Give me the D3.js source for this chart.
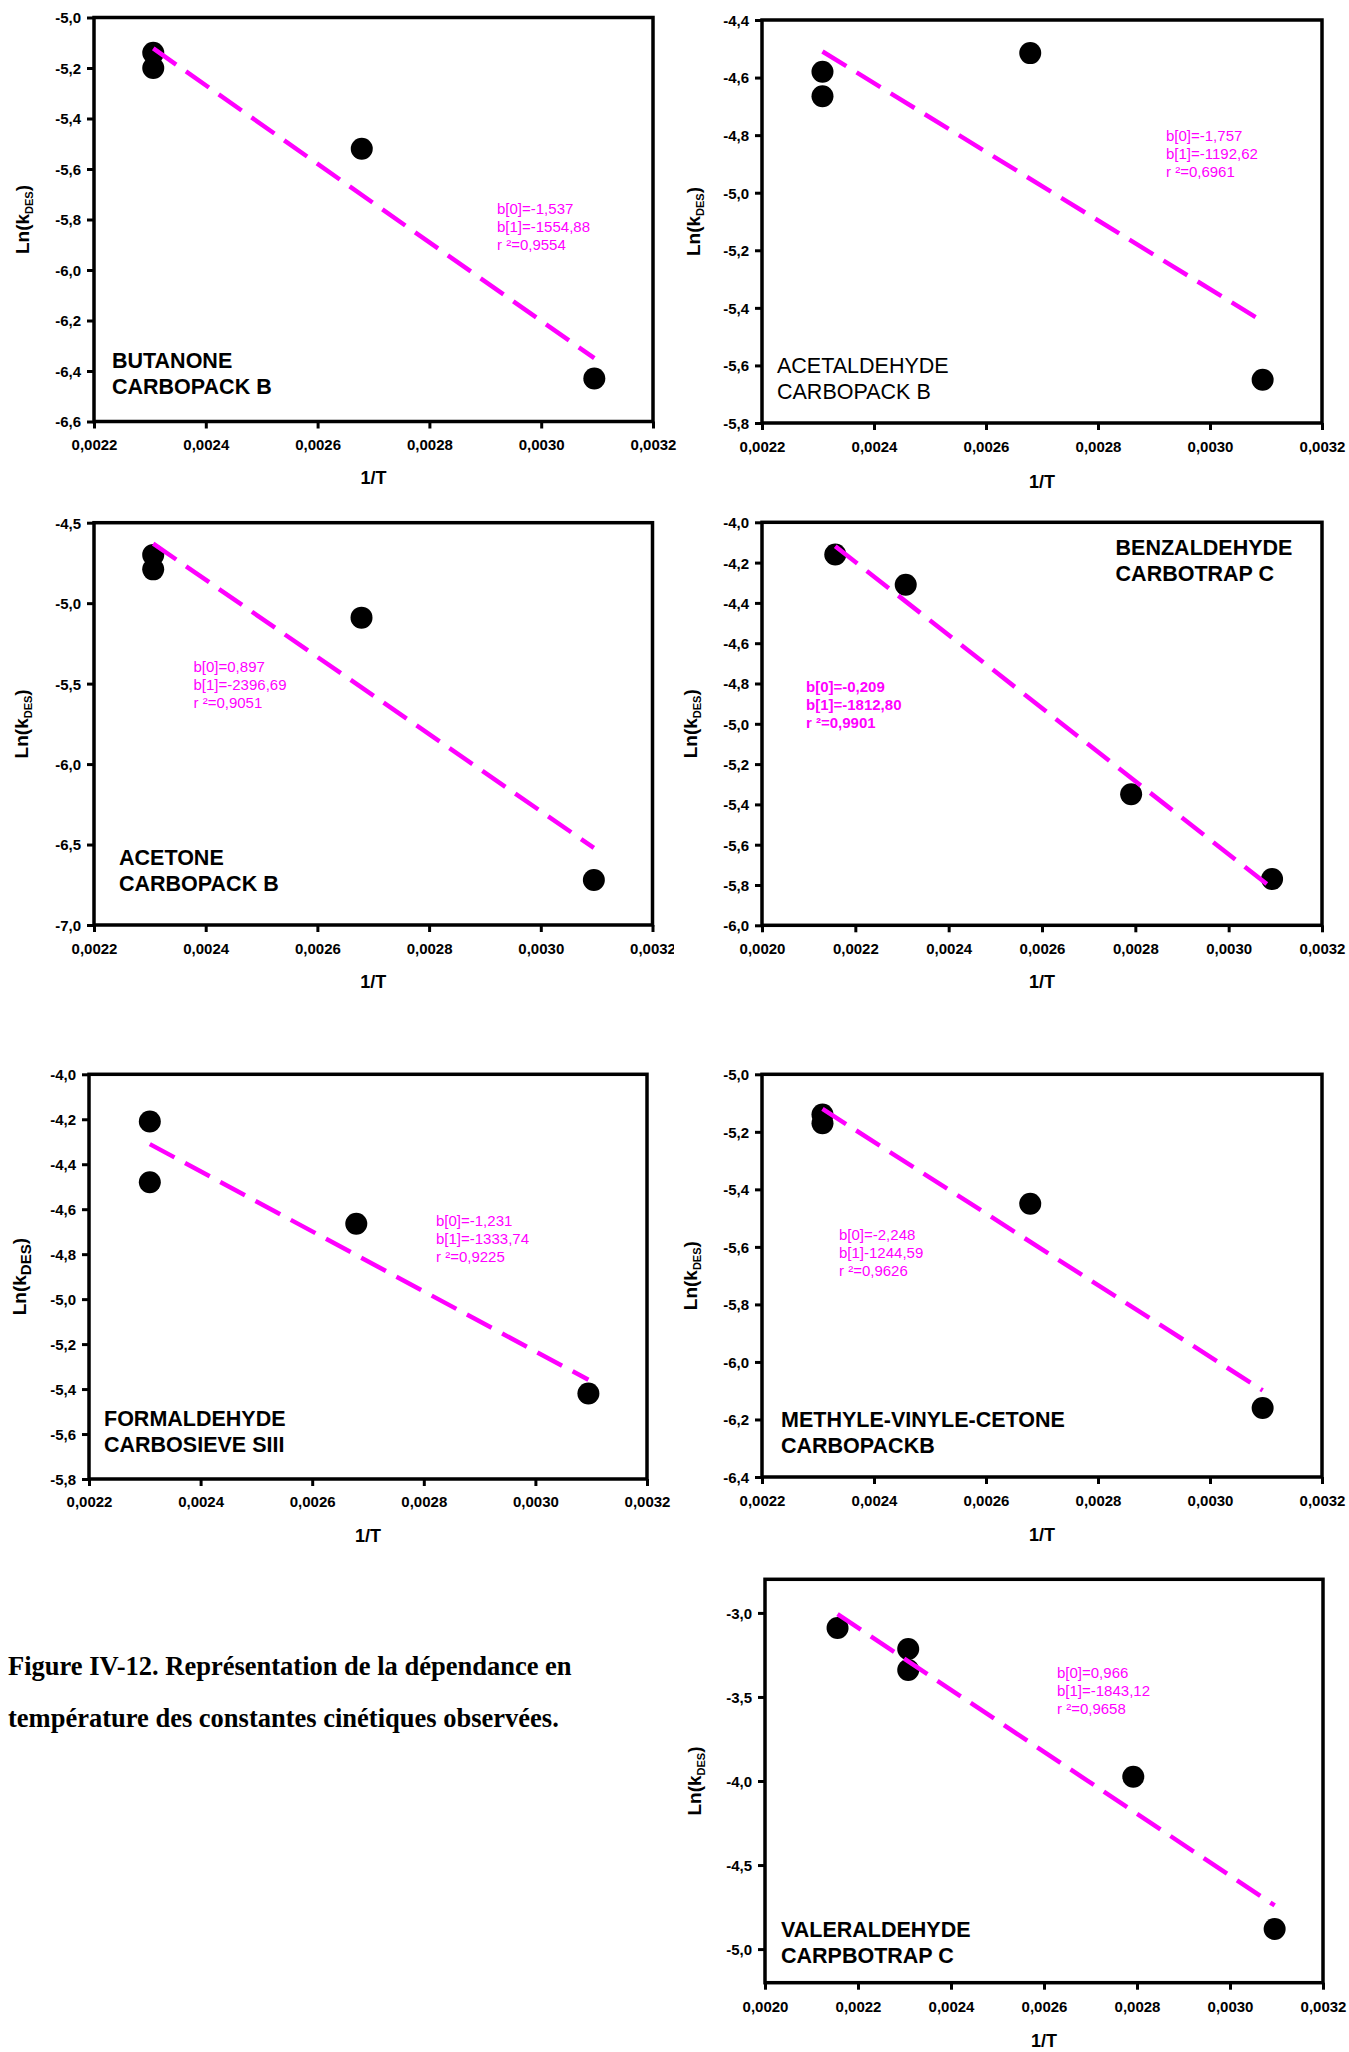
<!DOCTYPE html>
<html><head><meta charset="utf-8">
<script src="https://cdn.jsdelivr.net/npm/d3@7"></script>
<style>body{margin:0;background:#fff}svg{display:block}</style>
</head><body>
<script>
// ---------- DATA ----------
const compoundNames = [
  ["BUTANONE", "CARBOPACK B"],
  ["ACETALDEHYDE", "CARBOPACK B"],
  ["ACETONE", "CARBOPACK B"],
  ["BENZALDEHYDE", "CARBOTRAP C"],
  ["FORMALDEHYDE", "CARBOSIEVE SIII"],
  ["METHYLE-VINYLE-CETONE", "CARBOPACKB"],
  ["VALERALDEHYDE", "CARPBOTRAP C"]
];
// 1/T values and Ln(kDES) values
const butanoneX = [0.002306, 0.002306, 0.002679, 0.003095];
const butanoneY = [-5.14, -5.20, -5.52, -6.43];
const acetaldehydeX = [0.002308, 0.002308, 0.002679, 0.003094];
const acetaldehydeY = [-4.58, -4.665, -4.515, -5.65];
const acetoneX = [0.002306, 0.002306, 0.002679, 0.003095];
const acetoneY = [-4.70, -4.79, -5.09, -6.72];
const benzaldehydeX = [0.002157, 0.002308, 0.002791, 0.003093];
const benzaldehydeY = [-4.16, -4.31, -5.35, -5.77];
const formaldehydeX = [0.002309, 0.002309, 0.002679, 0.003095];
const formaldehydeY = [-4.21, -4.48, -4.665, -5.42];
const mvcX = [0.002308, 0.002308, 0.002679, 0.003094];
const mvcY = [-5.14, -5.17, -5.45, -6.16];
const valeraldehydeX = [0.002156, 0.002308, 0.002308, 0.002792, 0.003096];
const valeraldehydeY = [-3.09, -3.215, -3.34, -3.975, -4.88];

// regression coefficients shown on each panel (Ln k = b0 + b1 / T)
const fitB0 = [-1.537, -1.757, 0.897, -0.209, -1.231, -2.248, 0.966];
const fitB1 = [-1554.88, -1192.62, -2396.69, -1812.80, -1333.74, -1244.59, -1843.12];
const fitText = [
  ["b[0]=-1,537", "b[1]=-1554,88", "r \u00B2=0,9554"],
  ["b[0]=-1,757", "b[1]=-1192,62", "r \u00B2=0,6961"],
  ["b[0]=0,897", "b[1]=-2396,69", "r \u00B2=0,9051"],
  ["b[0]=-0,209", "b[1]=-1812,80", "r \u00B2=0,9901"],
  ["b[0]=-1,231", "b[1]=-1333,74", "r \u00B2=0,9225"],
  ["b[0]=-2,248", "b[1]-1244,59", "r \u00B2=0,9626"],
  ["b[0]=0,966", "b[1]=-1843,12", "r \u00B2=0,9658"]
];

// axis domains and tick values
const yDomains = [[-6.6, -5.0], [-5.8, -4.4], [-7.0, -4.5], [-6.0, -4.0], [-5.8, -4.0], [-6.4, -5.0], [-5.2, -2.8]];
const yTicksA = [-6.6, -6.4, -6.2, -6.0, -5.8, -5.6, -5.4, -5.2, -5.0];
const yTicksB = [-5.8, -5.6, -5.4, -5.2, -5.0, -4.8, -4.6, -4.4];
const yTicksC = [-7.0, -6.5, -6.0, -5.5, -5.0, -4.5];
const yTicksD = [-6.0, -5.8, -5.6, -5.4, -5.2, -5.0, -4.8, -4.6, -4.4, -4.2, -4.0];
const yTicksE = [-5.8, -5.6, -5.4, -5.2, -5.0, -4.8, -4.6, -4.4, -4.2, -4.0];
const yTicksF = [-6.4, -6.2, -6.0, -5.8, -5.6, -5.4, -5.2, -5.0];
const yTicksG = [-5.0, -4.5, -4.0, -3.5, -3.0];
const xDomainA = [0.0022, 0.0032];
const xDomainB = [0.0020, 0.0032];
const xTicksA = [0.0022, 0.0024, 0.0026, 0.0028, 0.0030, 0.0032];
const xTicksB = [0.0020, 0.0022, 0.0024, 0.0026, 0.0028, 0.0030, 0.0032];

const caption = [
  "Figure IV-12. Repr\u00E9sentation de la d\u00E9pendance en",
  "temp\u00E9rature des constantes cin\u00E9tiques observ\u00E9es."
];

// ---------- LAYOUT ----------
const panels = [
  {x: butanoneX, y: butanoneY, yTicks: yTicksA, xDom: xDomainA, xTicks: xTicksA, nameBold: true, annBold: false,
   l: 94, t: 17.5, r: 653, b: 421.5, nameX: 112, nameY: 368, annX: 497, annY: 214, ylabX: 28.5, xTickY: 450, xTitleY: 484, sub: 11},
  {x: acetaldehydeX, y: acetaldehydeY, yTicks: yTicksB, xDom: xDomainA, xTicks: xTicksA, nameBold: false, annBold: false,
   l: 762, t: 20, r: 1322, b: 423, nameX: 777, nameY: 373, annX: 1166, annY: 141, ylabX: 700, xTickY: 452, xTitleY: 488, sub: 11},
  {x: acetoneX, y: acetoneY, yTicks: yTicksC, xDom: xDomainA, xTicks: xTicksA, nameBold: true, annBold: false,
   l: 94, t: 522.7, r: 652.5, b: 925, nameX: 119, nameY: 865, annX: 193.5, annY: 672, ylabX: 27.5, xTickY: 954, xTitleY: 988, sub: 11, clipRight: 674},
  {x: benzaldehydeX, y: benzaldehydeY, yTicks: yTicksD, xDom: xDomainB, xTicks: xTicksB, nameBold: true, annBold: true,
   l: 762, t: 522.3, r: 1322, b: 925.3, nameX: 1115.6, nameY: 555, annX: 806, annY: 692, ylabX: 697, xTickY: 954, xTitleY: 988, sub: 11},
  {x: formaldehydeX, y: formaldehydeY, yTicks: yTicksE, xDom: xDomainA, xTicks: xTicksA, nameBold: true, annBold: false,
   l: 89, t: 1074.3, r: 647, b: 1479, nameX: 104, nameY: 1426, annX: 436, annY: 1226, ylabX: 26, xTickY: 1506.7, xTitleY: 1542, sub: 15},
  {x: mvcX, y: mvcY, yTicks: yTicksF, xDom: xDomainA, xTicks: xTicksA, nameBold: true, annBold: false,
   l: 762, t: 1074.3, r: 1322, b: 1477, nameX: 781, nameY: 1426.7, annX: 839, annY: 1240, ylabX: 697, xTickY: 1506, xTitleY: 1541, sub: 11},
  {x: valeraldehydeX, y: valeraldehydeY, yTicks: yTicksG, xDom: xDomainB, xTicks: xTicksB, nameBold: true, annBold: false,
   l: 765, t: 1579.3, r: 1323, b: 1982.7, nameX: 781, nameY: 1937, annX: 1057, annY: 1678, ylabX: 701, xTickY: 2011.7, xTitleY: 2047, sub: 11}
];

const SANS = "'Liberation Sans', Arial, Helvetica, sans-serif";
const SERIF = "'Liberation Serif', 'Times New Roman', Times, serif";
const MAGENTA = "#ff00ff";

const svg = d3.select("body").append("svg")
  .attr("width", 1349).attr("height", 2052)
  .style("background", "#fff");

const fmtY = v => v.toFixed(1).replace(".", ",");
const fmtX = v => v.toFixed(4).replace(".", ",");

panels.forEach((p, i) => {
  const g = svg.append("g");
  if (p.clipRight) {
    const id = "clip" + i;
    svg.append("defs").append("clipPath").attr("id", id)
      .append("rect").attr("x", 0).attr("y", p.t - 30).attr("width", p.clipRight).attr("height", p.b - p.t + 120);
    g.attr("clip-path", `url(#${id})`);
  }
  const xs = d3.scaleLinear().domain(p.xDom).range([p.l, p.r]);
  const ys = d3.scaleLinear().domain(yDomains[i]).range([p.b, p.t]);

  // y axis
  const yAx = g.append("g").attr("transform", `translate(${p.l},0)`)
    .call(d3.axisLeft(ys).tickValues(p.yTicks).tickFormat(fmtY).tickSize(7).tickPadding(6));
  yAx.select(".domain").remove();
  yAx.selectAll(".tick line").attr("stroke", "#000").attr("stroke-width", 3);
  yAx.selectAll(".tick text").attr("fill", "#000")
    .style("font-family", SANS).style("font-size", "15px").style("font-weight", "bold")
    .attr("dy", "0.36em");

  // x axis
  const xAx = g.append("g").attr("transform", `translate(0,${p.b})`)
    .call(d3.axisBottom(xs).tickValues(p.xTicks).tickFormat(fmtX).tickSize(7).tickPadding(6));
  xAx.select(".domain").remove();
  xAx.selectAll(".tick line").attr("stroke", "#000").attr("stroke-width", 3);
  xAx.selectAll(".tick text").attr("fill", "#000")
    .style("font-family", SANS).style("font-size", "15px").style("font-weight", "bold")
    .attr("y", p.xTickY - p.b).attr("dy", 0);

  // frame
  g.append("rect").attr("x", p.l).attr("y", p.t)
    .attr("width", p.r - p.l).attr("height", p.b - p.t)
    .attr("fill", "none").attr("stroke", "#000").attr("stroke-width", 3.5);

  // points
  const pts = p.x.map((xv, k) => ({x: xv, y: p.y[k]}));
  g.selectAll("circle.pt").data(pts).enter().append("circle")
    .attr("class", "pt")
    .attr("cx", d => xs(d.x)).attr("cy", d => ys(d.y)).attr("r", 11)
    .attr("fill", "#000");

  // regression line
  const xmin = d3.min(p.x), xmax = d3.max(p.x);
  const fit = [xmin, xmax].map(xv => ({x: xv, y: fitB0[i] + fitB1[i] * xv}));
  g.append("path").datum(fit)
    .attr("d", d3.line().x(d => xs(d.x)).y(d => ys(d.y)))
    .attr("fill", "none").attr("stroke", MAGENTA).attr("stroke-width", 4.5)
    .attr("stroke-dasharray", "28,12");

  // fit annotation
  const ann = g.append("text").attr("x", p.annX).attr("y", p.annY)
    .attr("fill", MAGENTA).style("font-family", SANS).style("font-size", "15px")
    .style("font-weight", p.annBold ? "bold" : "normal");
  fitText[i].forEach((s, k) => {
    ann.append("tspan").attr("x", p.annX).attr("y", p.annY + k * 18).text(s);
  });

  // compound label
  const nm = g.append("text").attr("fill", "#000")
    .style("font-family", SANS).style("font-size", "21.5px")
    .style("font-weight", p.nameBold ? "bold" : "normal");
  compoundNames[i].forEach((s, k) => {
    nm.append("tspan").attr("x", p.nameX).attr("y", p.nameY + k * 26).text(s);
  });

  // y title
  const cy = (p.t + p.b) / 2;
  const yt = g.append("text").attr("transform", `translate(${p.ylabX},${cy}) rotate(-90)`)
    .attr("text-anchor", "middle").attr("fill", "#000")
    .style("font-family", SANS).style("font-size", "19px").style("font-weight", "bold");
  yt.append("tspan").text("Ln(k");
  yt.append("tspan").attr("dy", p.sub > 12 ? 5 : 4).style("font-size", p.sub + "px").text("DES");
  yt.append("tspan").attr("dy", p.sub > 12 ? -5 : -4).text(")");

  // x title
  g.append("text").attr("x", (p.l + p.r) / 2).attr("y", p.xTitleY)
    .attr("text-anchor", "middle").attr("fill", "#000")
    .style("font-family", SANS).style("font-size", "18px").style("font-weight", "bold")
    .text("1/T");
});

// caption
const cap = svg.append("text").attr("fill", "#000")
  .style("font-family", SERIF).style("font-size", "26.5px").style("font-weight", "bold");
caption.forEach((s, k) => {
  cap.append("tspan").attr("x", 8).attr("y", 1675 + k * 52).text(s);
});
</script>
</body></html>
